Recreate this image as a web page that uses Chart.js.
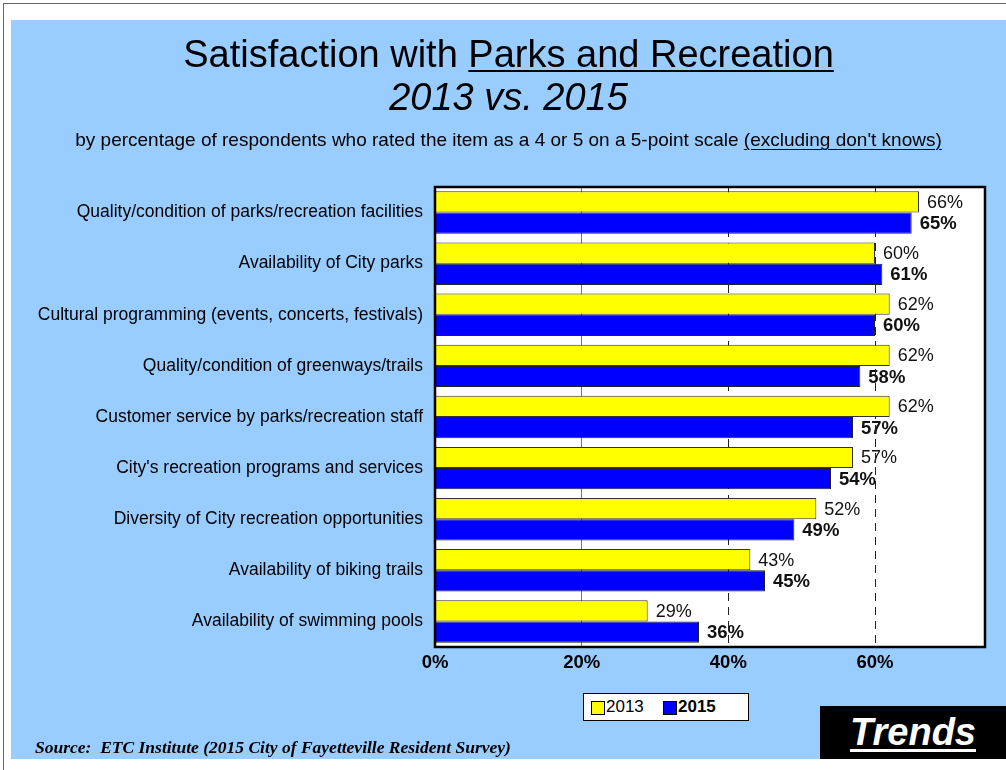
<!DOCTYPE html>
<html>
<head>
<meta charset="utf-8">
<script src="https://cdn.jsdelivr.net/npm/chart.js"></script>
<style>
  body { margin: 0; background: #fff; font-family: "Liberation Sans", Arial, sans-serif; }
  #page { position: relative; width: 1006px; height: 770px; overflow: hidden; }
  #frame { position: absolute; left: 3px; top: 3px; width: 1010px; height: 780px; border-left: 1px solid #666; border-top: 1px solid #666; }
  #panel { position: absolute; left: 11px; top: 20px; width: 995px; height: 739px; background: #99ccff; }
  canvas { position: absolute; left: 0; top: 0; }
  .t { position: absolute; left: 11px; width: 995px; text-align: center; color: #000; white-space: nowrap; line-height: 1.15; }
  #t1 { top: 33px; font-size: 38px; }
  #t2 { top: 76px; font-size: 38px; font-style: italic; }
  #t3 { top: 129px; font-size: 19px; }
  u { text-decoration-thickness: 2px; text-underline-offset: 3px; }
  #legend { position: absolute; left: 583px; top: 693px; width: 164px; height: 26px; background: #fff; border: 1px solid #000; font-size: 17px; }
  .sw { position: absolute; top: 7px; width: 12px; height: 12px; border: 1px solid #000; }
  .lt { position: absolute; top: 3px; }
  #trends { position: absolute; left: 820px; top: 706px; width: 186px; height: 53px; background: #000; color: #fff; font-size: 38px; font-weight: bold; font-style: italic; text-align: center; line-height: 53px; }
  #trends u { text-decoration-thickness: 3px; text-underline-offset: 4px; }
  #source { position: absolute; left: 35px; top: 737px; font-family: "Liberation Serif", "Times New Roman", serif; font-weight: bold; font-style: italic; font-size: 17.5px; }
</style>
</head>
<body>
<div id="page">
  <div id="frame"></div>
  <div id="panel"></div>
  <canvas id="chart" width="1006" height="770"></canvas>
  <div class="t" id="t1">Satisfaction with <u>Parks and Recreation</u></div>
  <div class="t" id="t2">2013 vs. 2015</div>
  <div class="t" id="t3">by percentage of respondents who rated the item as a 4 or 5 on a 5-point scale <u style="text-decoration-thickness:1px">(excluding don't knows)</u></div>
  <div id="legend">
    <div class="sw" style="left:7px;background:#ffff00"></div><div class="lt" style="left:22px">2013</div>
    <div class="sw" style="left:79px;background:#0000ff"></div><div class="lt" style="left:94px;font-weight:bold">2015</div>
  </div>
  <div id="trends"><u>Trends</u></div>
  <div id="source">Source:&nbsp; ETC Institute (2015 City of Fayetteville Resident Survey)</div>
</div>
<script>
var categories = [
  'Quality/condition of parks/recreation facilities',
  'Availability of City parks',
  'Cultural programming (events, concerts, festivals)',
  'Quality/condition of greenways/trails',
  'Customer service by parks/recreation staff',
  "City's recreation programs and services",
  'Diversity of City recreation opportunities',
  'Availability of biking trails',
  'Availability of swimming pools'
];
var values2013 = [66, 60, 62, 62, 62, 57, 52, 43, 29];
var values2015 = [65, 61, 60, 58, 57, 54, 49, 45, 36];
var tickValues = [0, 20, 40, 60];

// background, plot area and value labels (drawn under the grid lines like the original)
var backdrop = {
  id: 'backdrop',
  beforeDraw: function (chart) {
    var ctx = chart.ctx, a = chart.chartArea;
    ctx.save();
    ctx.fillStyle = '#fff';
    ctx.fillRect(a.left, a.top, a.right - a.left, a.bottom - a.top);
    ctx.fillStyle = '#111';
    ctx.textBaseline = 'middle';
    ctx.textAlign = 'left';
    chart.data.datasets.forEach(function (ds, di) {
      ctx.font = (di === 1 ? 'bold 18.5px' : '18px') + ' "Liberation Sans", Arial';
      chart.getDatasetMeta(di).data.forEach(function (bar, i) {
        ctx.fillText(ds.data[i] + '%', bar.x + 8, bar.y + 1);
      });
    });
    ctx.restore();
  },
  afterDraw: function (chart) {
    var ctx = chart.ctx, a = chart.chartArea;
    ctx.save();
    ctx.strokeStyle = '#000';
    ctx.lineWidth = 2.5;
    ctx.strokeRect(a.left, a.top, a.right - a.left, a.bottom - a.top);
    ctx.restore();
  }
};

new Chart(document.getElementById('chart'), {
  type: 'bar',
  data: {
    labels: categories,
    datasets: [
      { label: '2013', data: values2013, backgroundColor: '#ffff00', borderColor: '#333', borderWidth: 1 },
      { label: '2015', data: values2015, backgroundColor: '#0000ff', borderColor: '#222', borderWidth: 1 }
    ]
  },
  options: {
    indexAxis: 'y',
    responsive: false,
    animation: false,
    events: [],
    layout: { padding: { left: 0, top: 187, right: 21, bottom: 0 } },
    datasets: { bar: { categoryPercentage: 0.83, barPercentage: 1 } },
    plugins: { legend: { display: false }, tooltip: { enabled: false } },
    scales: {
      x: {
        min: 0,
        max: 75,
        afterFit: function (s) { s.height = 123; },
        afterBuildTicks: function (s) { s.ticks = tickValues.map(function (v) { return { value: v }; }); },
        ticks: {
          padding: 5,
          color: '#000',
          font: { family: '"Liberation Sans", Arial', size: 18.5, weight: 'bold' },
          callback: function (v) { return v + '%'; }
        },
        grid: {
          drawTicks: false,
          lineWidth: 1,
          color: function (c) { return c.tick && c.tick.value === 20 ? '#777' : '#222'; }
        },
        border: {
          display: false,
          dash: function (c) { return c.tick && c.tick.value >= 40 ? [8, 6] : []; }
        }
      },
      y: {
        afterFit: function (s) { s.width = 435; },
        grid: { display: false, drawTicks: false },
        border: { display: false },
        ticks: {
          padding: 12,
          color: '#000',
          font: { family: '"Liberation Sans", Arial', size: 17.5 }
        }
      }
    }
  },
  plugins: [backdrop]
});
</script>
</body>
</html>
